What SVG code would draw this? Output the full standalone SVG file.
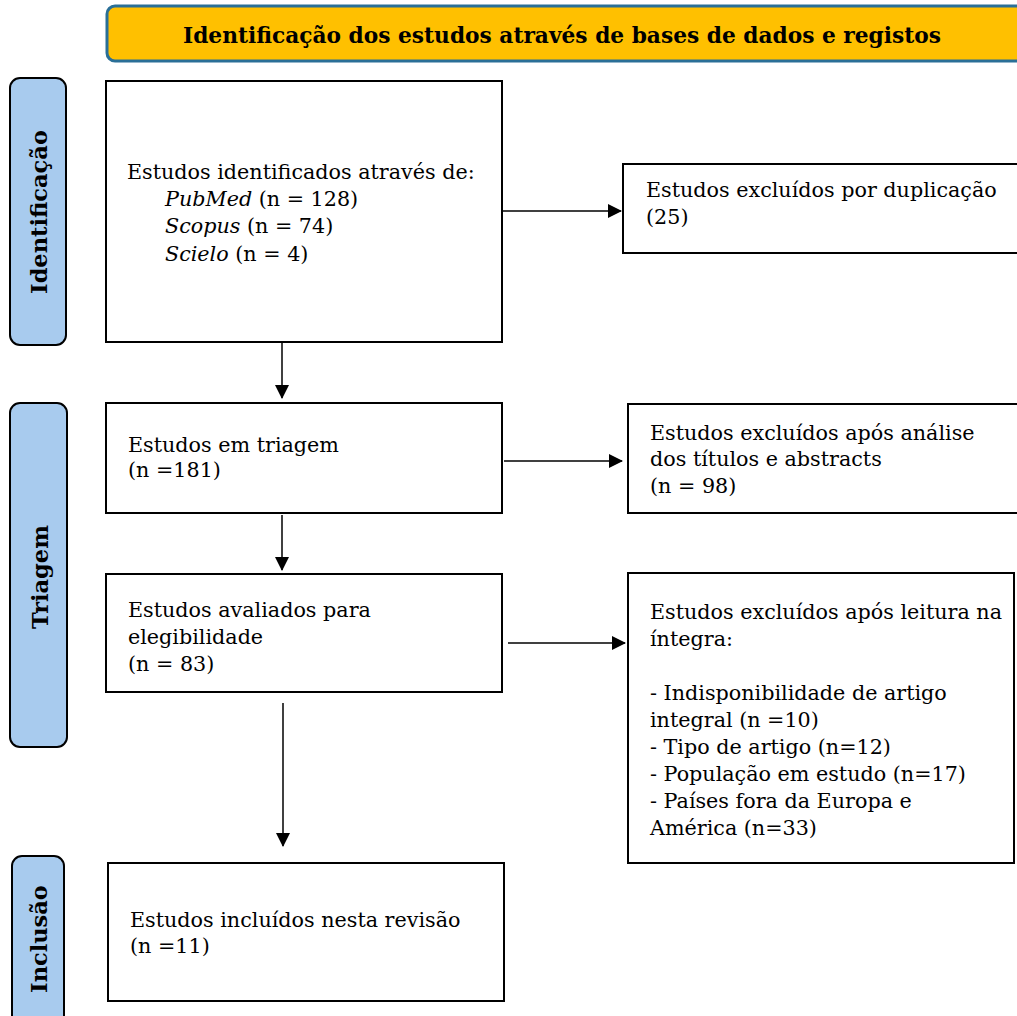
<svg xmlns="http://www.w3.org/2000/svg" width="1017" height="1016" viewBox="0 0 1017 1016">
<defs>
<marker id="ahv" markerWidth="14" markerHeight="14" refX="13" refY="7" orient="auto" markerUnits="userSpaceOnUse">
<path d="M0,0 L14,7 L0,14 Z" fill="#000"/>
</marker>
<style>
.box{fill:#fff;stroke:#000;stroke-width:2}
.side{fill:#A8CBEE;stroke:#000;stroke-width:2}
.t{font-family:"DejaVu Serif","Liberation Serif",serif;font-size:20.7px;fill:#000}
.i{font-style:italic}
.sl{font-family:"DejaVu Serif","Liberation Serif",serif;font-size:22.5px;font-weight:bold;fill:#000;text-anchor:middle}
.hd{font-family:"DejaVu Serif","Liberation Serif",serif;font-size:23px;font-weight:bold;fill:#000;text-anchor:middle}
.c{fill:none;stroke:#000;stroke-width:1.5}
</style>
</defs>
<g id="header">
<rect x="107" y="6" width="920" height="55" rx="8" fill="#FFC000" stroke="#2A6F97" stroke-width="3"/>
<text class="hd" x="562" y="43" textLength="758" lengthAdjust="spacingAndGlyphs">Identificação dos estudos através de bases de dados e registos</text>
</g>
<g id="lbl-identificacao">
<rect class="side" x="10" y="78" width="56" height="267" rx="10"/>
<text class="sl" transform="translate(47,212) rotate(-90)">Identificação</text>
</g>
<g id="lbl-triagem">
<rect class="side" x="10" y="403" width="57" height="344" rx="10"/>
<text class="sl" transform="translate(48,577) rotate(-90)">Triagem</text>
</g>
<g id="lbl-inclusao">
<rect class="side" x="12" y="856" width="52" height="170" rx="10"/>
<text class="sl" transform="translate(47,939) rotate(-90)">Inclusão</text>
</g>
<g id="n-identified">
<rect class="box" x="106" y="81" width="396" height="261"/>
<text class="t" x="127" y="179">Estudos identificados através de:</text>
<text class="t" x="165" y="206"><tspan class="i">PubMed</tspan> (n = 128)</text>
<text class="t" x="165" y="233"><tspan class="i">Scopus</tspan> (n = 74)</text>
<text class="t" x="165" y="261"><tspan class="i">Scielo</tspan> (n = 4)</text>
</g>
<g id="n-dup">
<rect class="box" x="623" y="164" width="410" height="89"/>
<text class="t" x="646" y="197">Estudos excluídos por duplicação</text>
<text class="t" x="646" y="224">(25)</text>
</g>
<g id="n-screen">
<rect class="box" x="106" y="403" width="396" height="110"/>
<text class="t" x="128" y="452">Estudos em triagem</text>
<text class="t" x="128" y="477">(n =181)</text>
</g>
<g id="n-excl-titles">
<rect class="box" x="628" y="404" width="410" height="109"/>
<text class="t" x="650" y="440">Estudos excluídos após análise</text>
<text class="t" x="650" y="466">dos títulos e abstracts</text>
<text class="t" x="650" y="493">(n = 98)</text>
</g>
<g id="n-elig">
<rect class="box" x="106" y="574" width="396" height="118"/>
<text class="t" x="128" y="617">Estudos avaliados para</text>
<text class="t" x="128" y="644">elegibilidade</text>
<text class="t" x="128" y="671">(n = 83)</text>
</g>
<g id="n-excl-full">
<rect class="box" x="628" y="573" width="386" height="290"/>
<text class="t" x="650" y="619">Estudos excluídos após leitura na</text>
<text class="t" x="650" y="646">íntegra:</text>
<text class="t" x="650" y="700">- Indisponibilidade de artigo</text>
<text class="t" x="650" y="727">integral (n =10)</text>
<text class="t" x="650" y="754">- Tipo de artigo (n=12)</text>
<text class="t" x="650" y="781">- População em estudo (n=17)</text>
<text class="t" x="650" y="808">- Países fora da Europa e</text>
<text class="t" x="650" y="835">América (n=33)</text>
</g>
<g id="n-included">
<rect class="box" x="108" y="863" width="396" height="138"/>
<text class="t" x="130" y="927">Estudos incluídos nesta revisão</text>
<text class="t" x="130" y="953">(n =11)</text>
</g>
<g id="connectors">
<line class="c" x1="502" y1="211" x2="621" y2="211" marker-end="url(#ahv)"/>
<line class="c" x1="282" y1="342" x2="282" y2="398" marker-end="url(#ahv)"/>
<line class="c" x1="504" y1="461" x2="622" y2="461" marker-end="url(#ahv)"/>
<line class="c" x1="282" y1="515" x2="282" y2="570" marker-end="url(#ahv)"/>
<line class="c" x1="508" y1="643" x2="625" y2="643" marker-end="url(#ahv)"/>
<line class="c" x1="283" y1="703" x2="283" y2="846" marker-end="url(#ahv)"/>
</g>
</svg>
